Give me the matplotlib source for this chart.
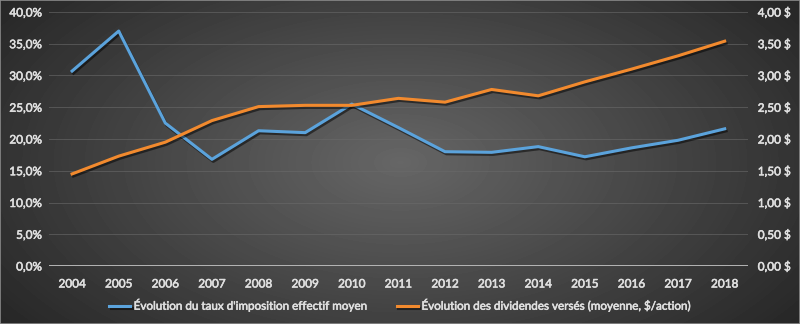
import matplotlib
matplotlib.use("Agg")
import matplotlib.pyplot as plt
import matplotlib.patheffects as pe
import numpy as np
from matplotlib.ticker import FuncFormatter

years = ["2004", "2005", "2006", "2007", "2008", "2009", "2010", "2011",
         "2012", "2013", "2014", "2015", "2016", "2017", "2018"]
tax_rate = [30.7, 37.0, 22.5, 16.8, 21.3, 21.0, 25.5, 21.8,
            18.0, 17.9, 18.8, 17.2, 18.6, 19.8, 21.6]
dividends = [1.45, 1.73, 1.95, 2.29, 2.51, 2.53, 2.53, 2.64,
             2.58, 2.78, 2.68, 2.90, 3.10, 3.31, 3.54]
label_tax = "Évolution du taux d'imposition effectif moyen"
label_div = "Évolution des dividendes versés (moyenne, $/action)"

plt.rcParams['font.family'] = ['Lato', 'DejaVu Sans']
txt = '#e0e0e0'

fig = plt.figure(figsize=(8, 3.24), dpi=100)
# radial gradient background
bg = fig.add_axes([0, 0, 1, 1])
yy, xx = np.mgrid[0:324, 0:800]
r = np.sqrt(((xx - 400) / 480.0) ** 2 + ((yy - 162) / 260.0) ** 2)
val = np.clip(0.40 - 0.24 * r, 0.15, 0.42)
bg.imshow(val, cmap='gray', vmin=0, vmax=1, aspect='auto', extent=[0, 1, 0, 1])
bg.set_xlim(0, 1)
bg.set_ylim(0, 1)
bg.set_xticks([])
bg.set_yticks([])
for s in bg.spines.values():
    s.set_color('#8a8a8a')
    s.set_linewidth(1.2)

ax = fig.add_axes([0.061, 0.179, 0.874, 0.784])
ax.patch.set_alpha(0)
ax2 = ax.twinx()
x = np.arange(len(years))
shadow = [pe.SimpleLineShadow(offset=(1, -1.5), shadow_color='black', alpha=0.5), pe.Normal()]
l1, = ax.plot(x, tax_rate, color='#5ba3dc', lw=2.2, label=label_tax, path_effects=shadow, zorder=3)
l2, = ax2.plot(x, dividends, color='#f28a2e', lw=2.2, label=label_div, path_effects=shadow, zorder=3)

ax.set_xlim(-0.5, len(years) - 0.5)
ax.set_ylim(0, 40)
ax2.set_ylim(0, 4)
ax.set_yticks(np.arange(0, 41, 5))
ax2.set_yticks(np.arange(0, 4.01, 0.5))
ax.yaxis.set_major_formatter(FuncFormatter(lambda v, p: f"{v:.1f}%".replace('.', ',')))
ax2.yaxis.set_major_formatter(FuncFormatter(lambda v, p: f"{v:.2f} $".replace('.', ',')))
ax.set_xticks(x)
ax.set_xticklabels(years)
for a in (ax, ax2):
    for s in a.spines.values():
        s.set_visible(False)
    a.tick_params(length=0, colors=txt, labelsize=8.5)
ax.tick_params(axis='x', pad=9)
ax.tick_params(axis='y', pad=5)
ax2.tick_params(axis='y', pad=7)
ax.grid(axis='y', color='#6a6a6a', lw=0.7, alpha=0.6)
ax.axhline(0, color='#bfbfbf', lw=1.3, zorder=2)

for t in ax.get_xticklabels() + ax.get_yticklabels() + ax2.get_yticklabels():
    t.set_path_effects([pe.withStroke(linewidth=0.4, foreground=txt)])

leg = fig.legend(handles=[l1, l2], loc='center', bbox_to_anchor=(0.5, 0.058), ncol=2,
                 frameon=False, fontsize=8.4, labelcolor=txt, handlelength=1.8,
                 handletextpad=0.3, columnspacing=2.5)
for t in leg.get_texts():
    t.set_path_effects([pe.withStroke(linewidth=0.4, foreground=txt)])

fig.savefig("out.png", dpi=100)
